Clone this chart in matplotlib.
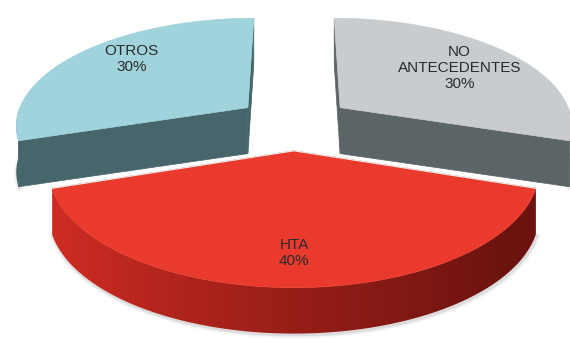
import numpy as np
import matplotlib.pyplot as plt
from matplotlib.patches import Polygon
from matplotlib.colors import to_rgb

# Antecedentes de los pacientes
categories = ["HTA", "NO\nANTECEDENTES", "OTROS"]
values = [40, 30, 30]

top_colors = ["#e93a2d", "#c9cccf", "#a0d3dc"]
wall_colors = [("#cf2c23", "#6c130f"), ("#5b6467", "#555e61"), ("#47666c", "#425f65")]
label_color = "#2a2a2a"

# perspective-like projection of the pie plane (pixel units)
CX, CY = 294.0, 123.0
SX, SY, PERSP = 233.0, 107.0, 0.15
THICK = 46.0
EXPLODE = 0.25


def project(x, y, bottom=False):
    w = 1.0 + PERSP * y
    return CX + SX * x / w, CY - SY * y / w + (THICK if bottom else 0.0)


def lerp(c1, c2, t):
    a, b = np.array(to_rgb(c1)), np.array(to_rgb(c2))
    return a + (b - a) * t


fig = plt.figure(figsize=(5.70, 3.43), dpi=100)
ax = fig.add_axes([0, 0, 1, 1])
ax.set_xlim(0, 570)
ax.set_ylim(343, 0)
ax.axis("off")

total = float(sum(values))
spans = [v / total * 360.0 for v in values]
start0 = 270.0 - spans[0] / 2.0
starts = np.cumsum([start0] + spans[:-1])

slices = []
for i, (st, sp) in enumerate(zip(starts, spans)):
    mid = np.deg2rad(st + sp / 2.0)
    ox, oy = EXPLODE * np.cos(mid), EXPLODE * np.sin(mid)
    ang = np.deg2rad(np.linspace(st, st + sp, 200))
    slices.append(dict(i=i, st=st, sp=sp, mid=mid, ox=ox, oy=oy, ang=ang))

# far slices first, the front one last
order = sorted(range(len(slices)), key=lambda k: -np.sin(slices[k]["mid"]))

for p, k in enumerate(order):
    s = slices[k]
    i = s["i"]
    ox, oy, ang = s["ox"], s["oy"], s["ang"]
    wc1, wc2 = wall_colors[i]
    z = 10 * p + 1

    front = [a for a in ang if np.sin(a) < 0]

    # soft shadow under the front-facing rim
    if front:
        sh = [project(ox + np.cos(a), oy + np.sin(a), True) for a in front]
        for lw, al in ((5, 0.06), (3, 0.10), (1.5, 0.14)):
            ax.plot([q[0] + 1 for q in sh], [q[1] + 1.5 for q in sh],
                    color="#808080", lw=lw, alpha=al, solid_capstyle="round", zorder=z - 0.5)

    # radial walls
    for edge, sign in ((ang[0], -1), (ang[-1], 1)):
        normal = edge + sign * np.pi / 2
        if np.sin(normal) <= 1e-9:
            ex, ey = ox + np.cos(edge), oy + np.sin(edge)
            pts = [project(ox, oy), project(ex, ey),
                   project(ex, ey, True), project(ox, oy, True)]
            ax.add_patch(Polygon(pts, closed=True, fc=wc1, ec=wc1, lw=0.5, zorder=z))

    # outer curved wall with a left-to-right shading
    if front:
        upper = [project(ox + np.cos(a), oy + np.sin(a)) for a in front]
        lower = [project(ox + np.cos(a), oy + np.sin(a), True) for a in front[::-1]]
        wall = Polygon(upper + lower, closed=True, fc="none", ec="none", zorder=z)
        ax.add_patch(wall)
        xs = [q[0] for q in upper + lower]
        ys = [q[1] for q in upper + lower]
        x0, x1 = min(xs) - 1, max(xs) + 1
        y0, y1 = min(ys) - 1, max(ys) + 1
        tt = np.linspace(0, 1, 256)
        grad = np.array([lerp(wc1, wc2, min(1.0, t ** 0.9 * 1.05)) for t in tt])[None, :, :]
        im = ax.imshow(grad, extent=(x0, x1, y1, y0), origin="upper", aspect="auto",
                       interpolation="bilinear", zorder=z)
        im.set_clip_path(wall)
        ax.set_xlim(0, 570)
        ax.set_ylim(343, 0)

    # top face
    top = [project(ox, oy)] + [project(ox + np.cos(a), oy + np.sin(a)) for a in ang]
    ax.add_patch(Polygon(top, closed=True, fc=top_colors[i], ec=top_colors[i],
                         lw=0.5, zorder=z + 1))
    if i == 0:
        edge_pts = [top[1], top[0], top[-1]]
        ax.plot([q[0] for q in edge_pts], [q[1] for q in edge_pts],
                color="#f4e6e2", lw=0.9, zorder=z + 1.5)

# labels
label_r = [0.78, 0.70, 0.76]
label_shift = [0.0, 0.0, 6.0]
for s in slices:
    i = s["i"]
    r = label_r[i]
    m = s["mid"] - np.deg2rad(label_shift[i])
    lx, ly = project(s["ox"] + r * np.cos(m), s["oy"] + r * np.sin(m))
    ax.text(lx, ly, f"{categories[i]}\n{values[i]}%", ha="center", va="center",
            fontsize=11, family=["Liberation Sans", "DejaVu Sans"],
            color=label_color, linespacing=1.2, zorder=100)

fig.savefig("out.png", dpi=100, facecolor="white")
